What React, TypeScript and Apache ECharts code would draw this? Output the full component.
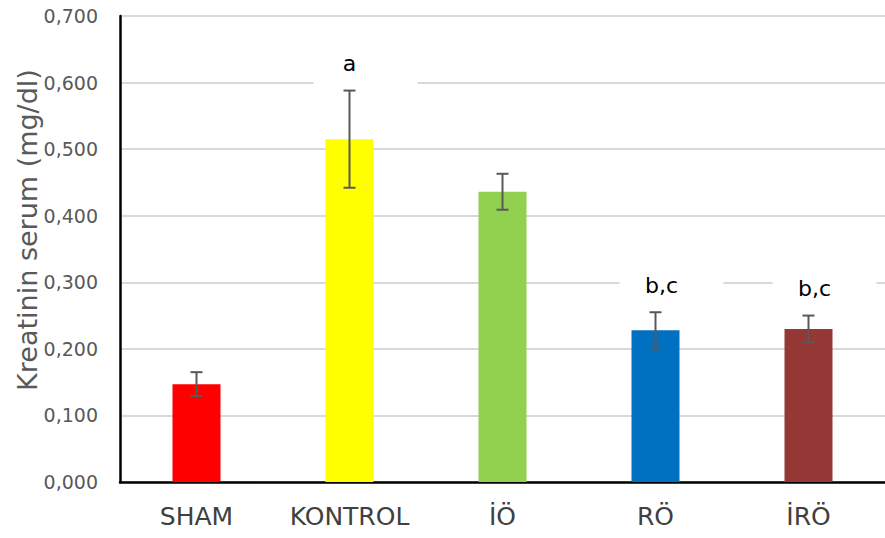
import React, { useEffect, useRef } from "react";
import * as echarts from "echarts";

// Serum creatinine per group (mg/dl): mean and half-width of the error bar
const groups = ["SHAM", "KONTROL", "İÖ", "RÖ", "İRÖ"];
const means = [0.147, 0.515, 0.436, 0.228, 0.230];
const errors = [0.018, 0.073, 0.027, 0.027, 0.020];
const letters = ["", "a", "", "b,c", "b,c"];
const barColors = ["#FF0000", "#FFFF00", "#92D050", "#0070C0", "#953735"];

const FONT = "DejaVu Sans, Verdana, sans-serif";

export default function App() {
  const ref = useRef<HTMLDivElement>(null);

  useEffect(() => {
    if (!ref.current) return;
    const chart = echarts.init(ref.current, null, { renderer: "svg" });

    const errData = groups.map((_, i) => [
      i,
      means[i] - errors[i],
      means[i] + errors[i],
      letters[i],
    ]);

    chart.setOption({
      animation: false,
      backgroundColor: "#ffffff",
      grid: { left: 120, right: -6, top: 16, bottom: 56, containLabel: false },
      xAxis: {
        type: "category",
        data: groups,
        axisLine: { lineStyle: { color: "#000000", width: 2.5 } },
        axisTick: { show: false },
        axisLabel: {
          color: "#404040",
          fontFamily: FONT,
          fontSize: 25,
          margin: 22,
          interval: 0,
        },
      },
      yAxis: {
        type: "value",
        min: 0,
        max: 0.7,
        interval: 0.1,
        axisLine: { show: true, lineStyle: { color: "#000000", width: 2.5 } },
        axisTick: { show: false },
        axisLabel: {
          color: "#595959",
          fontFamily: FONT,
          fontSize: 19,
          margin: 22,
          formatter: (v: number) => v.toFixed(3).replace(".", ","),
        },
        splitLine: { show: true, lineStyle: { color: "#d9d9d9", width: 2 } },
      },
      graphic: [
        {
          type: "text",
          x: 27,
          y: 230,
          rotation: Math.PI / 2,
          style: {
            text: "Kreatinin serum (mg/dl)",
            fill: "#595959",
            font: `27px ${FONT}`,
            align: "center",
            verticalAlign: "middle",
          },
        },
      ],
      series: [
        {
          type: "bar",
          data: means.map((v, i) => ({ value: v, itemStyle: { color: barColors[i] } })),
          barWidth: 48,
          z: 2,
        },
        {
          type: "custom",
          data: errData,
          z: 4,
          renderItem: (params: any, api: any) => {
            const i = api.value(0);
            const lo = api.coord([i, api.value(1)]);
            const hi = api.coord([i, api.value(2)]);
            const x = lo[0];
            const cap = 6;
            const stroke = { stroke: "#595959", lineWidth: 2 };
            const children: any[] = [];
            const label = errData[params.dataIndex][3] as string;
            if (label) {
              const ly = hi[1] - 27;
              children.push({
                type: "rect",
                shape: { x: x - 36, y: ly - 16, width: 104, height: 37 },
                style: { fill: "#ffffff" },
              });
              children.push({
                type: "text",
                x: x + (label.length > 1 ? 6 : 0),
                y: ly,
                style: {
                  text: label,
                  fill: "#000000",
                  font: `22px ${FONT}`,
                  align: "center",
                  verticalAlign: "middle",
                },
              });
            }
            children.push(
              { type: "line", shape: { x1: x, y1: lo[1], x2: x, y2: hi[1] }, style: stroke },
              { type: "line", shape: { x1: x - cap, y1: lo[1], x2: x + cap, y2: lo[1] }, style: stroke },
              { type: "line", shape: { x1: x - cap, y1: hi[1], x2: x + cap, y2: hi[1] }, style: stroke }
            );
            return { type: "group", children };
          },
        },
      ],
    });

    return () => chart.dispose();
  }, []);

  return (
    <div
      ref={ref}
      style={{ position: "fixed", left: 0, top: 0, width: 885, height: 538 }}
    />
  );
}
